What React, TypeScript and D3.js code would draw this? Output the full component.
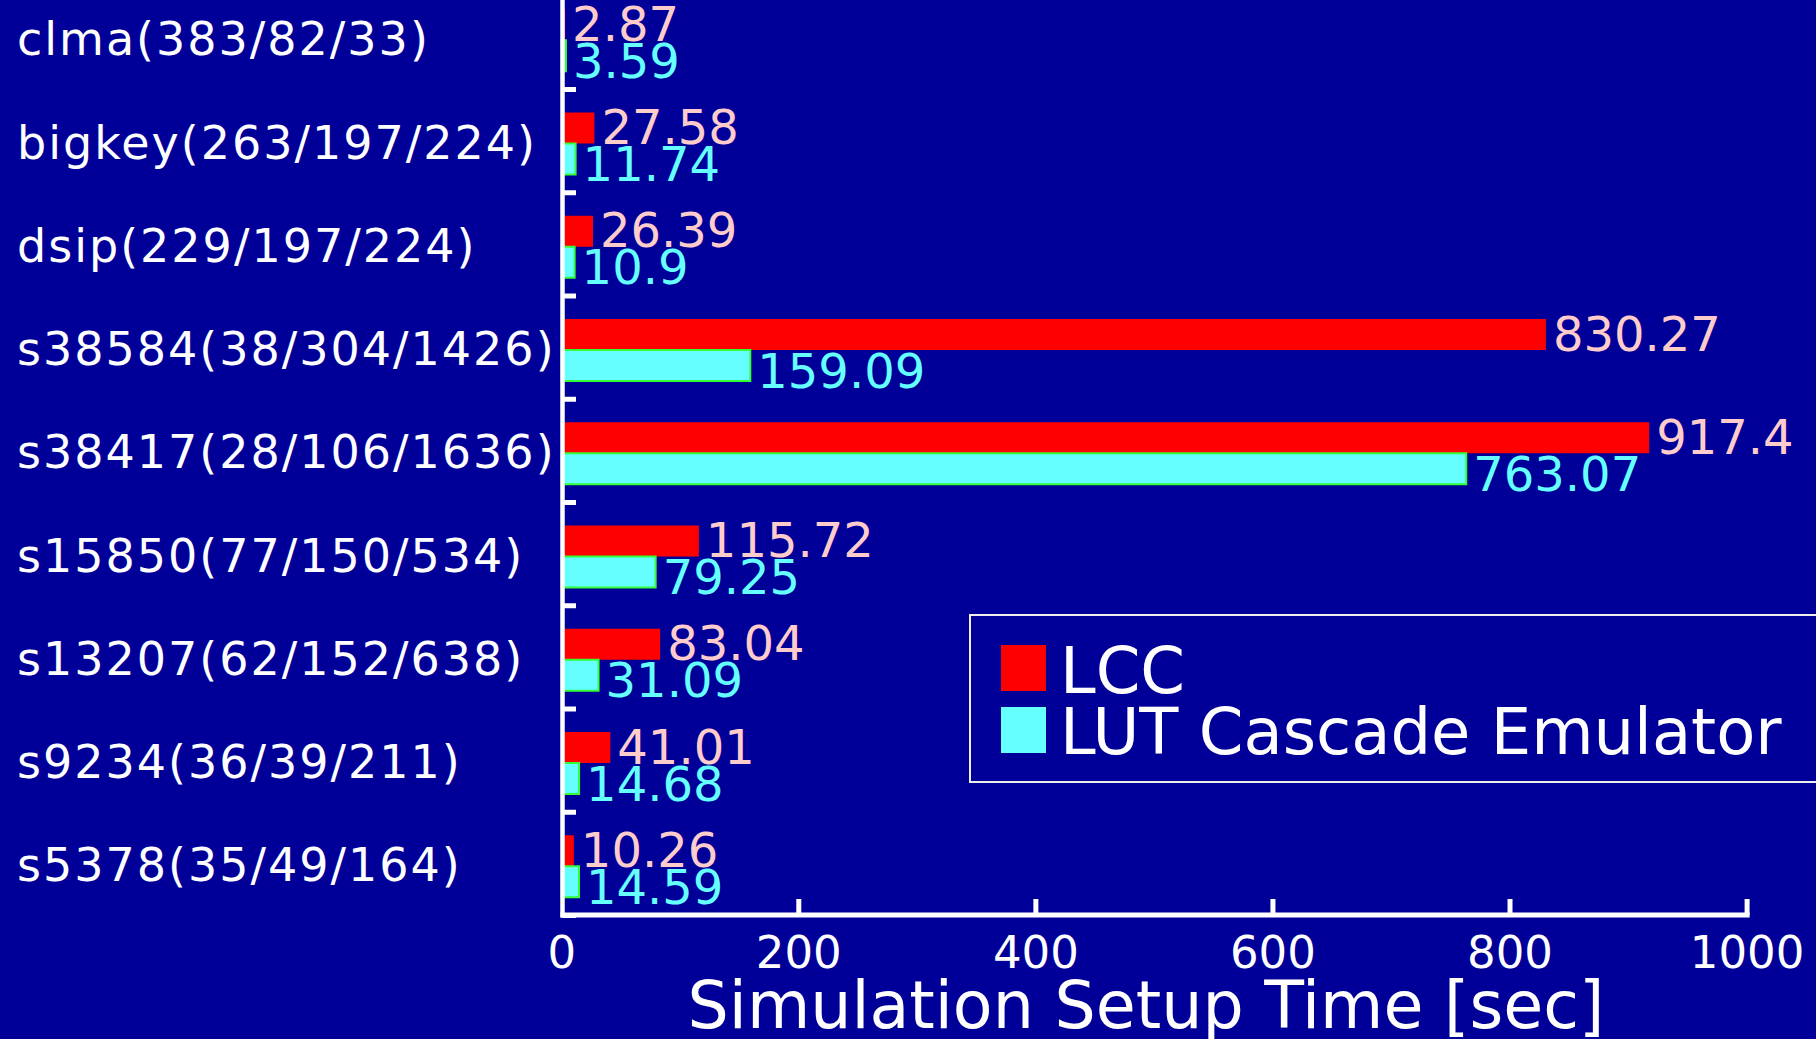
import React from "react";
import * as d3 from "d3";

// Benchmark circuits: name(inputs/outputs/LUTs)
const categories = [
  "clma(383/82/33)",
  "bigkey(263/197/224)",
  "dsip(229/197/224)",
  "s38584(38/304/1426)",
  "s38417(28/106/1636)",
  "s15850(77/150/534)",
  "s13207(62/152/638)",
  "s9234(36/39/211)",
  "s5378(35/49/164)",
];

const seriesNames = ["LCC", "LUT Cascade Emulator"];
const lccValues = [2.87, 27.58, 26.39, 830.27, 917.4, 115.72, 83.04, 41.01, 10.26];
const lutValues = [3.59, 11.74, 10.9, 159.09, 763.07, 79.25, 31.09, 14.68, 14.59];
const xTicks = [0, 200, 400, 600, 800, 1000];
const axisTitle = "Simulation Setup Time [sec]";

const W = 1816;
const H = 1039;
const BG = "#000099";
const FONT = "'DejaVu Sans', Verdana, sans-serif";
const barFill = ["#ff0000", "#66ffff"];
const labelFill = ["#ffcccc", "#66ffff"];

export default function App() {
  const x = d3.scaleLinear().domain([0, 1000]).range([561.7, 1747.1]);
  const y = d3
    .scaleBand<string>()
    .domain(categories)
    .range([-13.75, 915.5])
    .paddingInner(0)
    .paddingOuter(0);
  const sub = d3.scaleBand<string>().domain(seriesNames).range([23, 85]);
  const bh = sub.bandwidth();

  const series = [lccValues, lutValues];
  const axisY = 915;
  const axisX = 562.5;

  return (
    <svg
      width={W}
      height={H}
      style={{ position: "fixed", left: 0, top: 0, display: "block" }}
      fontFamily={FONT}
    >
      <rect x={0} y={0} width={W} height={H} fill={BG} />

      {/* bars */}
      {categories.map((c, i) => (
        <g key={c} transform={`translate(0,${y(c)})`}>
          {series.map((vals, s) => {
            const top = sub(seriesNames[s])!;
            const w = x(vals[i]) - x(0);
            return (
              <rect
                key={s}
                x={x(0)}
                y={top}
                width={w}
                height={bh}
                fill={barFill[s]}
                stroke={s === 1 ? "#33ff33" : "none"}
                strokeWidth={s === 1 ? 2 : 0}
              />
            );
          })}
        </g>
      ))}

      {/* value labels */}
      {categories.map((c, i) =>
        series.map((vals, s) => {
          const cy = y(c)! + sub(seriesNames[s])! + bh / 2;
          return (
            <text
              key={`${c}-${s}`}
              x={x(vals[i]) + 7}
              y={cy + (s === 0 ? 16 : 22)}
              fontSize={48}
              fill={labelFill[s]}
            >
              {String(vals[i])}
            </text>
          );
        })
      )}

      {/* category labels */}
      {categories.map((c) => (
        <text
          key={c}
          x={17}
          y={y(c)! + sub(seriesNames[0])! + bh + 15}
          fontSize={46}
          letterSpacing={2}
          fill="#ffffff"
        >
          {c}
        </text>
      ))}

      {/* y axis with inner ticks at category boundaries */}
      <line x1={axisX} x2={axisX} y1={-5} y2={axisY + 2.5} stroke="#ffffff" strokeWidth={4.5} />
      {categories.map((c) => (
        <line
          key={c}
          x1={axisX}
          x2={576}
          y1={y(c)! + y.step()}
          y2={y(c)! + y.step()}
          stroke="#ffffff"
          strokeWidth={5}
        />
      ))}

      {/* x axis */}
      <line x1={axisX - 2} x2={x(1000) + 2.5} y1={axisY} y2={axisY} stroke="#ffffff" strokeWidth={5} />
      {xTicks.map((t) => (
        <g key={t}>
          {t > 0 && (
            <line x1={x(t)} x2={x(t)} y1={899} y2={axisY} stroke="#ffffff" strokeWidth={5} />
          )}
          <text x={x(t)} y={968} fontSize={45} fill="#ffffff" textAnchor="middle">
            {t}
          </text>
        </g>
      ))}
      <text x={1146} y={1028} fontSize={65} fill="#ffffff" textAnchor="middle">
        {axisTitle}
      </text>

      {/* legend */}
      <rect x={970} y={615} width={880} height={167} fill={BG} stroke="#eeeeee" strokeWidth={2} />
      {seriesNames.map((n, s) => (
        <g key={n}>
          <rect x={1001} y={645 + s * 62} width={45} height={46} fill={barFill[s]} />
          <text x={1060} y={693 + s * 61} fontSize={64} fill="#ffffff">
            {n}
          </text>
        </g>
      ))}
    </svg>
  );
}
